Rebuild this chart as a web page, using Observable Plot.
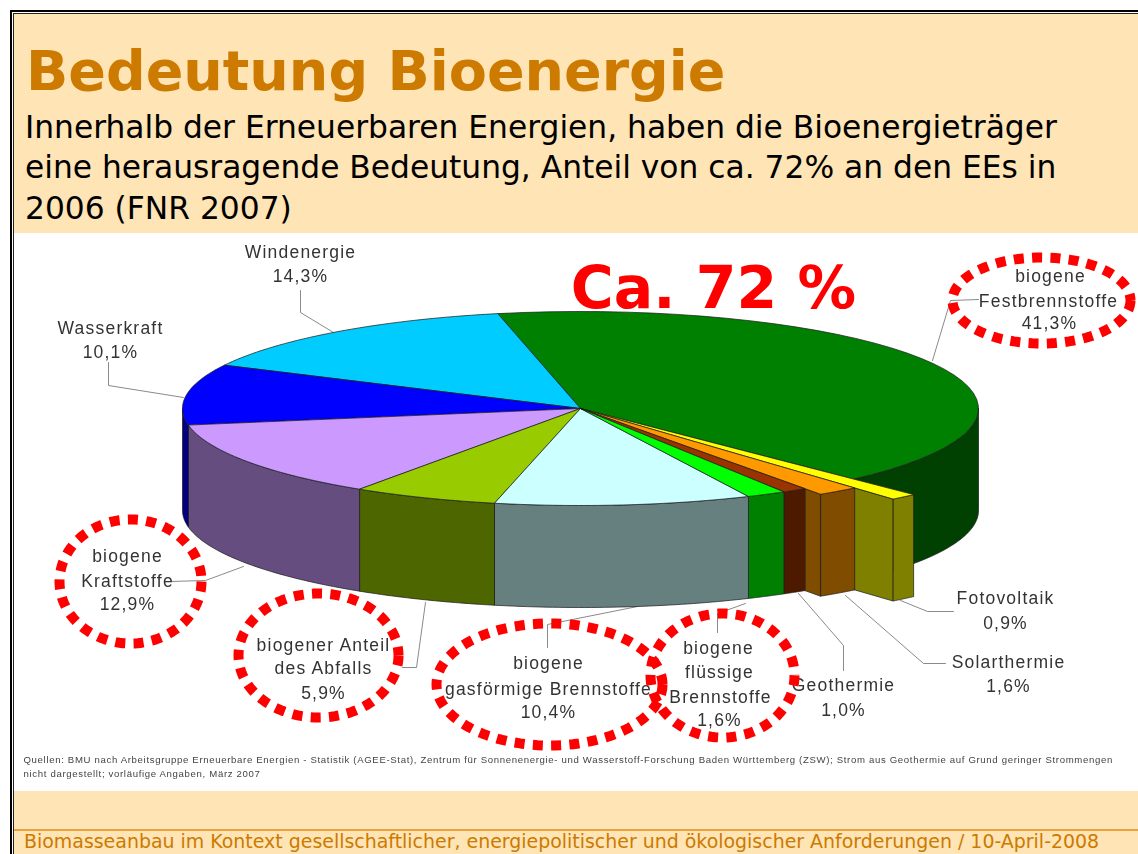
<!DOCTYPE html>
<html lang="de">
<head>
<meta charset="utf-8">
<title>Bedeutung Bioenergie</title>
<script src="https://cdn.jsdelivr.net/npm/d3@7"></script>
<script src="https://cdn.jsdelivr.net/npm/@observablehq/plot@0.6"></script>
<style>
  html, body { margin: 0; padding: 0; background: #fff; overflow: hidden; }
  body { width: 1138px; height: 854px; position: relative; font-family: "DejaVu Sans", sans-serif; }
  .frame { position: absolute; left: 9.5px; top: 10px; width: 1200px; height: 900px; border: 2px solid #000; box-sizing: border-box; z-index: 5; }
  .frame2 { position: absolute; left: 12.5px; top: 13px; width: 1200px; height: 900px; border: 1px solid #222; box-sizing: border-box; z-index: 5; }
  .band { position: absolute; left: 13px; right: 0; background: #FFE4B5; }
  .head { position: absolute; left: 26px; white-space: nowrap; }
  #title { top: 37px; font-size: 55.5px; line-height: 68px; font-weight: bold; color: #CC7A00; }
  .sub { font-size: 31.3px; line-height: 40px; color: #000; left: 25px; }
  #foot { left: 24px; top: 829px; font-size: 18.95px; line-height: 25px; color: #CC7A00; }
  #rule { position: absolute; left: 13px; right: 0; top: 829px; height: 1.5px; background: #E8A33D; }
  #chart { position: absolute; left: 13px; top: 233px; }
  #chart svg { display: block; overflow: visible; background: #fff; }
  .lab text { letter-spacing: 1.2px; filter: blur(0.6px); }
  .src text { letter-spacing: 0.66px; filter: blur(0.5px); }
</style>
</head>
<body>
<div class="band" style="top:14px;height:219px"></div>
<div class="band" style="top:791px;height:63px"></div>
<div class="frame"></div><div class="frame2"></div>
<div class="head" id="title">Bedeutung Bioenergie</div>
<div class="head sub" style="top:107px">Innerhalb der Erneuerbaren Energien, haben die Bioenergieträger</div>
<div class="head sub" style="top:147px">eine herausragende Bedeutung, Anteil von ca. 72% an den EEs in</div>
<div class="head sub" style="top:188px">2006 (FNR 2007)</div>
<div id="chart"></div>
<div id="rule"></div>
<div class="head" id="foot">Biomasseanbau im Kontext gesellschaftlicher, energiepolitischer und ökologischer Anforderungen / 10-April-2008</div>
<script>
// ---- data (clockwise from the big green slice) ----
const categories = ["biogene Festbrennstoffe", "Fotovoltaik", "Solarthermie", "Geothermie", "biogene flüssige Brennstoffe", "biogene gasförmige Brennstoffe", "biogener Anteil des Abfalls", "biogene Kraftstoffe", "Wasserkraft", "Windenergie"];
const shares = [41.3, 0.9, 1.6, 1.0, 1.6, 10.4, 5.9, 12.9, 10.1, 14.3];
const palette = ["#008000", "#FFFF00", "#FF9900", "#993300", "#00FF00", "#CCFFFF", "#99CC00", "#CC99FF", "#0000FF", "#00CCFF"];
const pull = [1, 1.22, 1.07, 1, 1, 1, 1, 1, 1, 1];

// ---- chart geometry ----
const W = 1125, H = 558, OX = 13, OY = 233;
const cx = 580 - OX, cy = 408 - OY, rx = 398, ry = 97, depth = 102, startDeg = -12;
const rad = d => d * Math.PI / 180;
const px = (t, r) => cx + rx * r * Math.sin(rad(t));
const py = (t, r) => cy - ry * r * Math.cos(rad(t));
const half = c => { const q = d3.rgb(c); return d3.rgb(q.r / 2, q.g / 2, q.b / 2).formatHex(); };

let acc = startDeg;
const slices = categories.map((name, i) => {
  const a = acc; acc += shares[i] * 3.6;
  return {name, a, b: acc, r: pull[i], color: palette[i]};
});
const arcPts = (a, b, r) => d3.range(0, 41).map(k => { const t = a + (b - a) * k / 40; return [px(t, r), py(t, r)]; });
const polys = [];
const addPoly = (id, pts, fill) => {
  [...pts, pts[0]].forEach(([x, y]) => polys.push({id, x, y, fill}));
};
const wall = (id, a, b, r, fill) => {
  const top = arcPts(a, b, r);
  addPoly(id, [...top, ...top.slice().reverse().map(([x, y]) => [x, y + depth])], fill);
};
// walls, back to front
const walled = [0, 1, 2, 3, 4, 5, 6, 7, 8];
walled.forEach(i => {
  const s = slices[i], c = half(s.color);
  const a = Math.max(s.a, 90), b = Math.min(s.b, 270);
  if (b <= a) return;
  if (s.r > 1) {
    const tl = [px(s.b, 1), py(s.b, 1)], tr = [px(s.b, s.r), py(s.b, s.r)];
    addPoly("side" + i, [tl, tr, [tr[0], tr[1] + depth], [tl[0], tl[1] + depth]], c);
  }
  wall("wall" + i, a, b, s.r, c);
});
// top faces
[0, 9, 8, 7, 6, 5, 1, 2, 3, 4].forEach(i => {
  const s = slices[i];
  addPoly("top" + i, [[cx, cy], ...arcPts(s.a, s.b, s.r)], s.color);
});

// ---- labels ----
const labelLines = [
  ["Windenergie", 300, 252], ["14,3%", 300, 276],
  ["Wasserkraft", 110, 328], ["10,1%", 110, 352],
  ["biogene", 1050, 276], ["Festbrennstoffe", 1048, 301], ["41,3%", 1049, 323],
  ["Fotovoltaik", 1005, 598], ["0,9%", 1005, 623],
  ["Solarthermie", 1008, 662], ["1,6%", 1008, 686],
  ["Geothermie", 843, 685], ["1,0%", 843, 710],
  ["biogene", 718, 648], ["flüssige", 719, 672], ["Brennstoffe", 720, 697], ["1,6%", 719, 720],
  ["biogene", 548, 663], ["gasförmige Brennstoffe", 548, 689], ["10,4%", 548, 712],
  ["biogener Anteil", 323, 645], ["des Abfalls", 323, 668], ["5,9%", 323, 693],
  ["biogene", 127, 556], ["Kraftstoffe", 127, 581], ["12,9%", 127, 604]
].map(([text, x, y]) => ({text, x: x - OX, y: y - OY}));

const leaders = [
  [[333, 332], [300, 312], [300, 290]],
  [[183, 397], [108, 385], [108, 362]],
  [[932, 360], [950, 300], [978, 299]],
  [[900, 600], [927, 611], [953, 611]],
  [[845, 595], [923, 663], [945, 663]],
  [[798, 593], [843, 645], [843, 670]],
  [[745, 603], [717, 613], [717, 632]],
  [[637, 606], [547, 624], [547, 647]],
  [[425, 602], [416, 667], [402, 667]],
  [[243, 566], [205, 580], [170, 581]]
].flatMap((pts, id) => pts.map(([x, y]) => ({id, x: x - OX, y: y - OY})));

// ---- red dotted rings (highlighting the bioenergy labels) ----
const rings = [[1041, 300, 89, 43], [130, 581, 71, 62], [318, 655, 80, 62], [549, 684, 113, 61], [722, 675, 72, 62]]
  .flatMap(([x, y, a, b], id) => d3.range(0, 121).map(k => ({
    id, x: x - OX + a * Math.cos(k * Math.PI / 60), y: y - OY + b * Math.sin(k * Math.PI / 60)
  })));

const sourceLines = [
  {text: "Quellen: BMU nach Arbeitsgruppe Erneuerbare Energien - Statistik (AGEE-Stat), Zentrum für Sonnenenergie- und Wasserstoff-Forschung Baden Württemberg (ZSW); Strom aus Geothermie auf Grund geringer Strommengen", x: 23 - OX, y: 759 - OY},
  {text: "nicht dargestellt; vorläufige Angaben, März 2007", x: 23 - OX, y: 773 - OY}
];
const callout = [{text: "Ca. 72 %", x: 713 - OX, y: 289 - OY}];

const chart = Plot.plot({
  width: W, height: H, margin: 0,
  x: {domain: [0, W], range: [0, W], axis: null},
  y: {domain: [0, H], range: [0, H], axis: null},
  marks: [
    Plot.line(leaders, {x: "x", y: "y", z: "id", stroke: "#8a8a8a", strokeWidth: 1}),
    Plot.line(polys, {x: "x", y: "y", z: "id", fill: "fill", stroke: "#1a1a1a", strokeWidth: 0.9, strokeOpacity: 0.8, strokeLinejoin: "miter"}),
    Plot.text(labelLines, {x: "x", y: "y", text: "text", fontFamily: "'Liberation Sans', Arial, sans-serif", fontSize: 17.5, fill: "#333", className: "lab"}),
    Plot.text(sourceLines, {x: "x", y: "y", text: "text", textAnchor: "start", fontFamily: "'Liberation Sans', Arial, sans-serif", fontSize: 9.6, fill: "#444", className: "src"}),
    Plot.line(rings, {x: "x", y: "y", z: "id", stroke: "#FF0000", strokeWidth: 10, strokeDasharray: "10,8.3", strokeLinecap: "butt", strokeLinejoin: "round"}),
    Plot.text(callout, {x: "x", y: "y", text: "text", fontFamily: "'DejaVu Sans', sans-serif", fontWeight: "bold", fontSize: 58.5, fill: "#FF0000"})
  ]
});
document.getElementById("chart").append(chart);
</script>
</body>
</html>
